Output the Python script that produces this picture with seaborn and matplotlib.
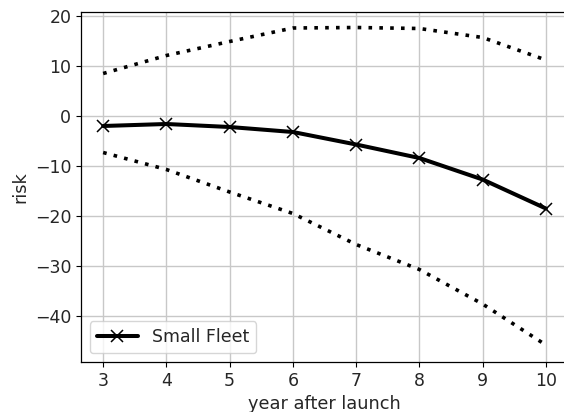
import matplotlib
matplotlib.use("Agg")
import matplotlib.pyplot as plt
import seaborn as sns
import pandas as pd

years = [3, 4, 5, 6, 7, 8, 9, 10]
risk_mean = [-2.0, -1.6, -2.2, -3.2, -5.7, -8.4, -12.7, -18.5]
risk_upper = [8.5, 12.1, 14.9, 17.6, 17.7, 17.5, 15.7, 11.2]
risk_lower = [-7.3, -10.7, -15.2, -19.5, -25.7, -30.7, -37.6, -45.8]

df = pd.DataFrame({
    "year": years,
    "mean": risk_mean,
    "upper": risk_upper,
    "lower": risk_lower,
})

sns.set_style("ticks")
plt.rcParams["font.family"] = ["DejaVu Sans"]

fig = plt.figure(figsize=(5.64, 4.12), dpi=100)
ax = fig.add_axes([81 / 564, 1 - 362 / 412, (568 - 81) / 564, (362 - 12) / 412])

dotted = (0, (1, 2.0))

sns.lineplot(data=df, x="year", y="mean", ax=ax, color="black", linewidth=2.9,
             marker="x", markersize=9, markeredgewidth=1.1, markeredgecolor="black",
             label="Small Fleet")
sns.lineplot(data=df, x="year", y="upper", ax=ax, color="black", linewidth=2.6,
             linestyle=dotted)
sns.lineplot(data=df, x="year", y="lower", ax=ax, color="black", linewidth=2.6,
             linestyle=dotted)

ax.set_xlim(2.65, 10.35)
ax.set_ylim(-49.2, 20.8)
ax.set_xticks(years)
ax.set_yticks([-40, -30, -20, -10, 0, 10, 20])
ax.grid(True, color="#c8c8c8", linewidth=1.0)
ax.set_xlabel("year after launch", fontsize=12.8)
ax.set_ylabel("risk", fontsize=12.8)
ax.tick_params(labelsize=12.5, color="black")
for s in ax.spines.values():
    s.set_color("black")
    s.set_linewidth(0.9)
ax.legend(loc="lower left", fontsize=12.5, framealpha=0.8, handlelength=2.4)

fig.savefig("out.png", dpi=100)
